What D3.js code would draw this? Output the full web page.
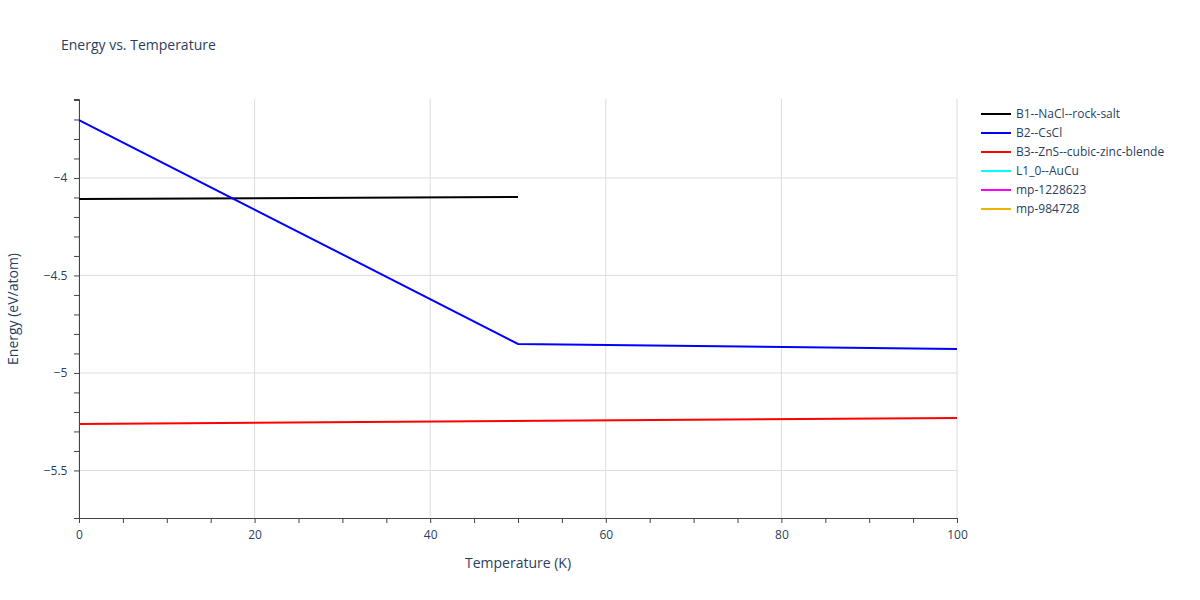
<!DOCTYPE html>
<html><head><meta charset="utf-8">
<script src="https://cdn.jsdelivr.net/npm/d3@7"></script>
<style>body{margin:0;background:#fff;font-family:"Open Sans",sans-serif;}</style>
</head><body><svg id="c" width="1200" height="600"></svg>
<script>
var seriesNames = ['B1--NaCl--rock-salt', 'B2--CsCl', 'B3--ZnS--cubic-zinc-blende', 'L1_0--AuCu', 'mp-1228623', 'mp-984728'];
var seriesColors = ['#000000', '#0000ff', '#ff0000', '#00ffff', '#ff00ff', '#f0b000'];
var b1Temp = [0, 50], b1Energy = [-4.108, -4.097];
var b2Temp = [0, 50, 100], b2Energy = [-3.703, -4.851, -4.877];
var b3Temp = [0, 100], b3Energy = [-5.262, -5.231];
var xTicks = [0, 20, 40, 60, 80, 100];
var yTicks = [-4, -4.5, -5, -5.5];

var svg = d3.select('#c');
var x = d3.scaleLinear().domain([0, 100]).range([79, 957]);
var y = d3.scaleLinear().domain([-5.744, -3.595]).range([518, 99]);
var grey = '#2a3f5f';

svg.append('text').attr('x', 61).attr('y', 50).attr('font-size', 14).attr('fill', grey).text('Energy vs. Temperature');

svg.selectAll('.gx').data(xTicks).enter().append('line')
    .attr('x1', d => x(d)).attr('x2', d => x(d)).attr('y1', 99).attr('y2', 518)
    .attr('stroke', '#ddd');
svg.selectAll('.gy').data(yTicks).enter().append('line')
    .attr('x1', 79).attr('x2', 957).attr('y1', d => y(d)).attr('y2', d => y(d))
    .attr('stroke', '#ddd');

var xa = svg.append('g').attr('transform', 'translate(0,518)')
    .call(d3.axisBottom(x).tickValues(d3.range(0, 101, 5)).tickSize(5).tickFormat(d => d % 20 === 0 ? d : ''));
var ya = svg.append('g').attr('transform', 'translate(79,0)')
    .call(d3.axisLeft(y).tickValues(d3.range(-5.5, -3.59, 0.1)).tickSize(5)
        .tickFormat(d => { var r = Math.round(d * 10) / 10; return Math.abs(r * 2 - Math.round(r * 2)) < 1e-6 ? String(r).replace('-', '\u2212') : ''; }));
[xa, ya].forEach(function (a) {
    a.selectAll('path,line').attr('stroke', '#444');
    a.selectAll('text').attr('fill', grey).attr('font-size', 12).attr('font-family', '"Open Sans",sans-serif');
});
xa.selectAll('text').attr('dy', '1.1em');
ya.selectAll('text').attr('dx', '-0.3em');

svg.append('text').attr('x', 518).attr('y', 568).attr('text-anchor', 'middle').attr('font-size', 14).attr('fill', grey).text('Temperature (K)');
svg.append('text').attr('transform', 'translate(18,309) rotate(-90)').attr('text-anchor', 'middle').attr('font-size', 14).attr('fill', grey).text('Energy (eV/atom)');

var line = d3.line().x(d => x(d[0])).y(d => y(d[1]));
var sets = [[b1Temp, b1Energy], [b2Temp, b2Energy], [b3Temp, b3Energy]];
sets.forEach(function (s, i) {
    svg.append('path').datum(s[0].map((t, j) => [t, s[1][j]]))
        .attr('d', line).attr('fill', 'none').attr('stroke', seriesColors[i]).attr('stroke-width', 2);
});

var lg = svg.selectAll('.lg').data(seriesNames).enter().append('g')
    .attr('transform', (d, i) => 'translate(981,' + (114 + i * 19) + ')');
lg.append('line').attr('x1', 0).attr('x2', 30).attr('stroke', (d, i) => seriesColors[i]).attr('stroke-width', 2);
lg.append('text').attr('x', 35).attr('y', 4).attr('font-size', 12).attr('fill', grey).text(d => d);
</script></body></html>
